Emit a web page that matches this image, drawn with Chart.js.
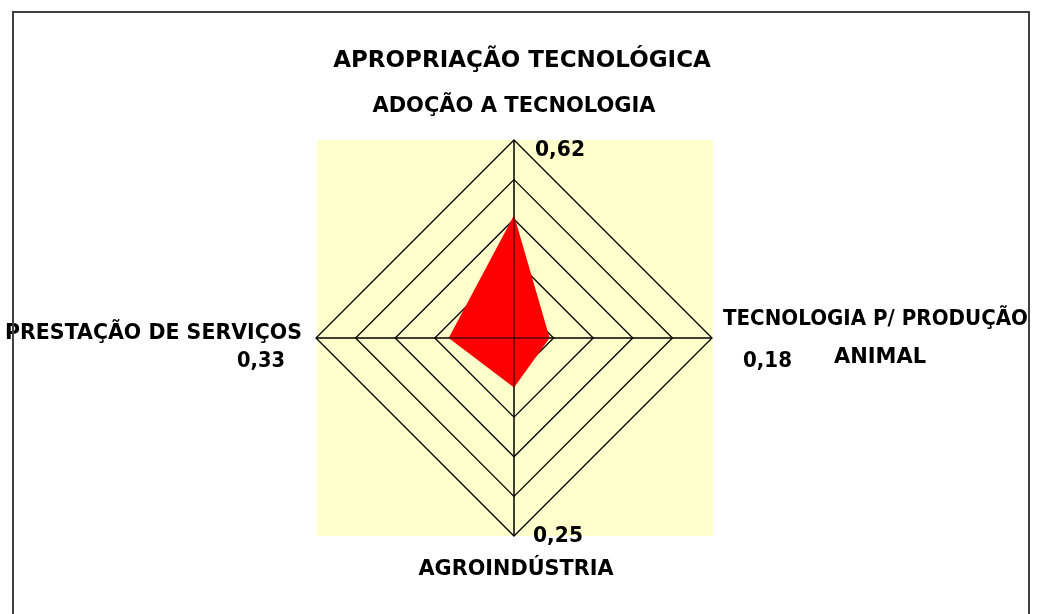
<!DOCTYPE html>
<html>
<head>
<meta charset="utf-8">
<script src="https://cdn.jsdelivr.net/npm/chart.js@4/dist/chart.umd.min.js"></script>
<style>
  html, body { margin: 0; padding: 0; background: #fff; }
  #radar { display: block; }
</style>
</head>
<body>
<canvas id="radar" width="1041" height="614"></canvas>
<script>
// chart data
var categories = [
	"ADOÇÃO A TECNOLOGIA",
	"TECNOLOGIA P/ PRODUÇÃO ANIMAL",
	"AGROINDÚSTRIA",
	"PRESTAÇÃO DE SERVIÇOS",
];
var values = [0.62, 0.18, 0.25, 0.33];
var valueLabels = ["0,62", "0,18", "0,25", "0,33"];
var title = "APROPRIAÇÃO TECNOLÓGICA";

var FONT = "bold 21px 'DejaVu Sans'";

// yellow plot area behind the web
var plotBg = {
	id: "plotBg",
	beforeDraw: function (chart) {
		var a = chart.chartArea, ctx = chart.ctx;
		ctx.save();
		ctx.fillStyle = "#FFFFCC";
		ctx.fillRect(a.left + 1, a.top, a.right - a.left, a.bottom - a.top);
		ctx.restore();
	},
};

// axis spokes drawn over the filled area, then all the texts
var overlay = {
	id: "overlay",
	afterDatasetsDraw: function (chart) {
		var s = chart.scales.r, ctx = chart.ctx;
		ctx.save();
		ctx.strokeStyle = "#000";
		ctx.lineWidth = 1;
		for (var i = 0; i < categories.length; i++) {
			var p = s.getPointPosition(i, s.drawingArea);
			ctx.beginPath();
			ctx.moveTo(s.xCenter, s.yCenter);
			ctx.lineTo(p.x, p.y);
			ctx.stroke();
		}
		ctx.restore();
	},
	afterDraw: function (chart) {
		var s = chart.scales.r, ctx = chart.ctx;
		var pt = function (i) { return s.getPointPosition(i, s.drawingArea); };
		var txt = function (t, x, y, align, w) {
			ctx.textAlign = align;
			ctx.fillText(t, x, y, w);
		};
		ctx.save();
		ctx.fillStyle = "#000";
		ctx.textBaseline = "alphabetic";

		// title
		ctx.font = "bold 23px 'DejaVu Sans'";
		txt(title, s.xCenter + 8, chart.chartArea.top - 73, "center", 390);

		ctx.font = FONT;
		var p0 = pt(0), p1 = pt(1), p2 = pt(2), p3 = pt(3);
		// top
		txt(categories[0], p0.x, p0.y - 28, "center", 288);
		txt(valueLabels[0], p0.x + 21, p0.y + 16, "left", 50);
		// right (two lines)
		var parts = categories[1].split(" ");
		var last = parts.pop();
		txt(parts.join(" "), p1.x + 11, p1.y - 13, "left", 305);
		txt(last, p1.x + 168, p1.y + 25, "center", 95);
		txt(valueLabels[1], p1.x + 31, p1.y + 29, "left", 49);
		// bottom
		txt(categories[2], p2.x + 2, p2.y + 39, "center", 195);
		txt(valueLabels[2], p2.x + 19, p2.y + 6, "left", 50);
		// left
		txt(categories[3], p3.x - 14, p3.y + 1, "right", 297);
		txt(valueLabels[3], p3.x - 31, p3.y + 29, "right", 48);

		// outer frame
		ctx.strokeStyle = "#404040";
		ctx.lineWidth = 2;
		ctx.strokeRect(13, 12, 1016, 700);
		ctx.restore();
	},
};

var ctx = document.getElementById("radar").getContext("2d");
var chart = new Chart(ctx, {
	type: "radar",
	data: {
		labels: categories,
		datasets: [
			{
				label: title,
				data: values,
				fill: true,
				backgroundColor: "#FF0000",
				borderWidth: 0,
				pointRadius: 0,
			},
		],
	},
	options: {
		responsive: false,
		animation: false,
		layout: {
			padding: { top: 140, bottom: 78, left: 316, right: 329 },
		},
		plugins: {
			legend: { display: false },
			tooltip: { enabled: false },
		},
		scales: {
			r: {
				min: 0,
				max: 1,
				ticks: { display: false, stepSize: 0.2 },
				pointLabels: { display: false },
				grid: { color: "#000", lineWidth: 1.3 },
				angleLines: { color: "#000", lineWidth: 1 },
			},
		},
	},
	plugins: [plotBg, overlay],
});
</script>
</body>
</html>
